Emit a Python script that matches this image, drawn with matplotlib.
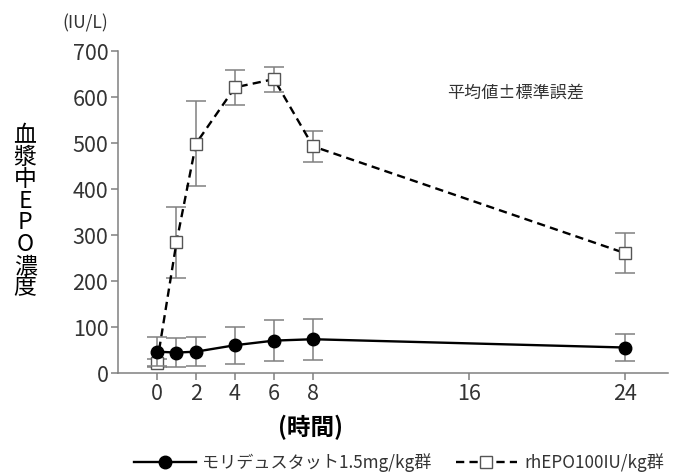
import matplotlib
matplotlib.use('Agg')
import matplotlib.pyplot as plt

plt.rcParams['font.family'] = ['Noto Sans CJK JP', 'DejaVu Sans']

# Sampling times (hours) and plasma EPO levels (IU/L), mean and SEM
hours = [0, 1, 2, 4, 6, 8, 24]
mori_mean = [47, 45, 47, 61, 71, 74, 56]
mori_sem = [31, 31, 31, 40, 45, 45, 29]
rhepo_mean = [22, 285, 499, 621, 639, 493, 261]
rhepo_sem = [8, 77, 92, 38, 27, 33, 44]

x_ticks = [0, 2, 4, 6, 8, 16, 24]
y_ticks = [0, 100, 200, 300, 400, 500, 600, 700]
mori_label = 'モリデュスタット1.5mg/kg群'
rhepo_label = 'rhEPO100IU/kg群'

grey = '#808080'
text_col = '#333333'

fig = plt.figure(figsize=(6.75, 4.75), dpi=100)
ax = fig.add_axes([0.1748, 0.2141, 0.8148, 0.6785])

# rhEPO group: dashed line, open squares
ax.errorbar(hours, rhepo_mean, yerr=rhepo_sem, fmt='none', ecolor=grey,
            elinewidth=1.1, capsize=7, capthick=1.1, clip_on=False, zorder=2)
h_rhepo, = ax.plot(hours, rhepo_mean, color='black', lw=1.7, ls=(0, (3.5, 2.2)),
                   marker='s', ms=8.5, mfc='white', mec='#555555', mew=1.0,
                   clip_on=False, zorder=3)

# molidustat group: solid line, filled circles
ax.errorbar(hours, mori_mean, yerr=mori_sem, fmt='none', ecolor=grey,
            elinewidth=1.1, capsize=7, capthick=1.1, clip_on=False, zorder=4)
h_mori, = ax.plot(hours, mori_mean, color='black', lw=1.7, ls='-',
                  marker='o', ms=9, mfc='black', mec='black',
                  clip_on=False, zorder=5)

ax.set_xlim(-2, 26.2)
ax.set_ylim(0, 700)
ax.set_xticks(x_ticks)
ax.set_yticks(y_ticks)
ax.tick_params(direction='out', length=5, width=1.1, color=grey,
               labelsize=15.5, labelcolor=text_col, pad=2)
for side in ['top', 'right']:
    ax.spines[side].set_visible(False)
for side in ['left', 'bottom']:
    ax.spines[side].set_color(grey)
    ax.spines[side].set_linewidth(1.1)

# axis titles
fig.text(85 / 675, 1 - 23 / 475, '(IU/L)', ha='center', va='center',
         fontsize=12.5, color=text_col)
fig.text(25 / 675, 1 - 212 / 475, '\n'.join('血漿中EPO濃度'), ha='center',
         va='center', fontsize=16.5, linespacing=0.93, color='black')
fig.text(310 / 675, 1 - 427 / 475, '(時間)', ha='center', va='center',
         fontsize=17, fontweight='bold', color='black')

ax.text(516 / 675, 1 - 93 / 475, '平均値±標準誤差', transform=fig.transFigure,
        ha='center', va='center', fontsize=12.3, color=text_col)

fig.legend([h_mori, h_rhepo], [mori_label, rhepo_label], ncol=2,
           loc='center', bbox_to_anchor=(399 / 675, 1 - 463 / 475),
           frameon=False, fontsize=12.3, handlelength=3.6, columnspacing=1.4,
           handletextpad=0.4, labelcolor=text_col)

fig.savefig('out.png', dpi=100)
